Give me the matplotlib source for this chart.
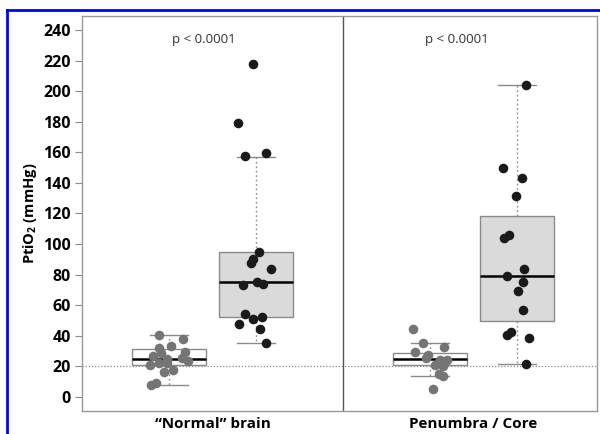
import numpy as np
import matplotlib.pyplot as plt
from matplotlib.lines import Line2D

plt.rcParams['font.family'] = ['Open Sans', 'DejaVu Sans']
plt.rcParams['mathtext.fontset'] = 'custom'
plt.rcParams['mathtext.rm'] = 'Open Sans'
plt.rcParams['mathtext.bf'] = 'Open Sans:bold'

# group positions: 1,2 = "Normal" brain ; 4,5 = Penumbra / Core
positions = [1, 2, 4, 5]
categories = ['\u201cNormal\u201d brain', 'Penumbra / Core']
p_text = 'p < 0.0001'

# points (value, horizontal jitter)
normal_low = [40.7, 37.7, 32.0, 33.0, 29.0, 27.0, 29.2, 25.3, 23.7, 25.0,
              20.9, 22.0, 22.4, 16.5, 17.9, 7.8, 9.4]
normal_low_jit = [-0.11, 0.16, -0.11, 0.02, -0.09, -0.18, 0.18, 0.15, 0.22, -0.02,
                  -0.22, -0.11, -0.02, -0.06, 0.05, -0.21, -0.15]
normal_high = [94.6, 90.0, 87.4, 83.9, 73.2, 75.0, 73.7, 54.5, 50.8, 52.1,
               47.5, 44.5, 35.5, 217.6, 179.4, 157.6, 159.8]
normal_high_jit = [0.03, -0.03, -0.06, 0.17, -0.15, 0.01, 0.08, -0.13, -0.03, 0.07,
                   -0.19, 0.05, 0.11, -0.04, -0.21, -0.13, 0.11]
pen_low = [44.3, 35.3, 32.9, 29.3, 27.5, 25.5, 24.2, 24.2, 20.7, 20.0,
           22.0, 15.0, 13.5, 5.0]
pen_low_jit = [-0.19, -0.08, 0.16, -0.17, -0.02, -0.04, 0.11, 0.19, 0.06, 0.15,
               0.13, 0.10, 0.15, 0.03]
pen_high = [106.0, 103.8, 83.5, 79.1, 75.4, 69.5, 56.7, 42.3, 40.5, 38.4,
            21.4, 203.9, 149.6, 143.2, 131.7]
pen_high_jit = [-0.09, -0.15, 0.08, -0.12, 0.07, 0.01, 0.07, -0.07, -0.11, 0.14,
                0.10, 0.10, -0.16, 0.06, -0.01]

# box stats as drawn: whislo, q1, med, q3, whishi
box_stats = [
    [7.8, 21.2, 25.0, 31.2, 40.7],
    [35.5, 52.1, 75.0, 94.6, 157.0],
    [13.7, 20.9, 24.9, 28.6, 35.1],
    [21.4, 49.7, 79.1, 118.6, 204.0],
]
ref_line = 20

fig = plt.figure(figsize=(6, 4.34), dpi=100)
ax = fig.add_axes([82/600, 1 - 411/434, 515/600, 395/434])

grey = '#8a8a8a'
stats = [dict(whislo=s[0], q1=s[1], med=s[2], q3=s[3], whishi=s[4], fliers=[])
         for s in box_stats]
bp = ax.bxp(stats, positions=positions, widths=0.84, patch_artist=True,
            showfliers=False,
            boxprops=dict(edgecolor=grey, linewidth=1.0),
            medianprops=dict(color='black', linewidth=1.8),
            whiskerprops=dict(color=grey, linestyle=(0, (1.2, 2)), linewidth=1.0),
            capprops=dict(color=grey, linewidth=1.0), capwidths=0.43)
for patch, fc in zip(bp['boxes'], ['white', '#dadada', 'white', '#dadada']):
    patch.set_facecolor(fc)

ax.axhline(ref_line, color=grey, linestyle=(0, (1, 1.5)), linewidth=0.9, zorder=1)
ax.axvline(3, color='#555555', linewidth=1.0)

groups = [(normal_low, normal_low_jit, '#757575'),
          (normal_high, normal_high_jit, '#1a1a1a'),
          (pen_low, pen_low_jit, '#757575'),
          (pen_high, pen_high_jit, '#1a1a1a')]
for pos, (vals, jit, col) in zip(positions, groups):
    ax.scatter(pos + np.array(jit), vals, s=48, color=col, zorder=4, linewidths=0)

ax.text(1.4, 233.5, p_text, ha='center', va='center', fontsize=9.5, color='#333333')
ax.text(4.31, 233.5, p_text, ha='center', va='center', fontsize=9.5, color='#333333')

ax.set_xlim(0, 5.92)
ax.set_ylim(-9.2, 249.2)
ax.set_yticks(np.arange(0, 241, 20))
ax.set_xticks([1.5, 4.5])
ax.set_xticklabels(categories, fontsize=11, fontweight='bold')
ax.tick_params(axis='x', length=0, pad=4)
ax.tick_params(axis='y', length=5, color=grey, pad=3, labelsize=11.5)
for lab in ax.get_yticklabels():
    lab.set_fontweight('bold')
ax.set_ylabel(r'PtiO$_{\mathbf{2}}$ (mmHg)', fontsize=10.5, fontweight='bold', labelpad=3)
for sp in ax.spines.values():
    sp.set_color('#999999')
    sp.set_linewidth(1.0)

# blue frame of the original crop
fig.add_artist(Line2D([7/600, 1], [1 - 10/434, 1 - 10/434], color='#0000ff', linewidth=2))
fig.add_artist(Line2D([7/600, 7/600], [0, 1 - 10/434], color='#0000ff', linewidth=2))

fig.savefig('out.png', dpi=100)
